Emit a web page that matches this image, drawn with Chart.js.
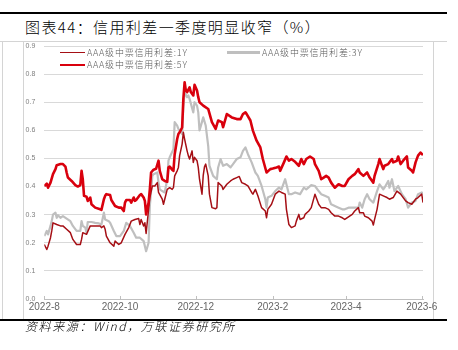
<!DOCTYPE html>
<html><head><meta charset="utf-8">
<script src="https://cdn.jsdelivr.net/npm/chart.js@4/dist/chart.umd.min.js"></script>
<style>
html,body{margin:0;padding:0;background:#fff;}
#wrap{position:relative;width:458px;height:350px;overflow:hidden;background:#fff;}
canvas{position:absolute;left:0;top:0;}
.abs{position:absolute;}
.lg{position:absolute;font:300 9px 'Noto Sans CJK SC';color:#595959;letter-spacing:0.8px;line-height:9px;white-space:nowrap;}
.lgl{position:absolute;}
</style></head><body>
<div id="wrap">
<div class="abs" style="left:0;top:12px;width:447px;height:2px;background:#000"></div>
<div class="abs" style="left:25px;top:19px;font:300 15px 'Noto Sans CJK SC';line-height:15px;letter-spacing:1.4px;color:#000;white-space:nowrap;">图表44：信用利差一季度明显收窄（%）</div>
<div class="abs" style="left:0;top:41px;width:447px;height:1px;background:#d4d4d4"></div>
<div class="abs" style="left:2px;top:42px;width:1px;height:277px;background:#d4d4d4"></div>
<div class="abs" style="left:23px;top:42px;width:1px;height:277px;background:#d4d4d4"></div>
<div class="abs" style="left:433px;top:42px;width:1px;height:277px;background:#d4d4d4"></div>
<canvas id="c" width="458" height="350"></canvas>
<div id="legend"></div>
<div class="abs" style="left:0;top:319px;width:447px;height:2px;background:#000"></div>
<div class="abs" style="left:25px;top:320px;font:italic 300 12px 'Noto Sans CJK SC';line-height:12px;letter-spacing:1.6px;color:#000;white-space:nowrap;">资料来源：Wind，万联证券研究所</div>
</div>
<script>
// x values are day offsets from this date
const startDate = '2022-08-01';
const tickDays   = [0, 61, 122, 184, 243, 304];
const tickLabels = ['2022-8','2022-10','2022-12','2023-2','2023-4','2023-6'];
const yTickValues = [0,0.1,0.2,0.3,0.4,0.5,0.6,0.7,0.8,0.9];
const seriesNames = ['AAA级中票信用利差:1Y','AAA级中票信用利差:3Y','AAA级中票信用利差:5Y'];

const days1Y = [
0,2,3,5,6,7,10,13,15,18,
21,23,26,29,30,31,34,37,41,45,
46,48,49,50,53,56,57,60,62,65,
68,70,73,76,77,78,80,81,82,85,
87,89,91,92,95,96,97,99,101,103,
104,105,107,108,109,111,112,113,115,116,
117,119,120,121,123,124,125,127,128,129,
130,132,133,135,138,139,140,143,144,147,
150,152,155,157,159,162,164,167,168,170,
172,175,178,179,180,183,186,189,191,194,
195,197,199,202,203,205,206,209,210,213,
215,218,221,223,226,229,231,234,237,240,
242,245,248,250,253,254,257,258,261,264,
265,266,268,270,273,276,278,281,284,287,
288,291,293,296,299,301,304,305];
const vals1Y = [
.194,.176,.188,.218,.242,.271,.265,.26,.26,.248,
.236,.212,.194,.194,.212,.236,.23,.26,.26,.26,
.254,.26,.248,.224,.2,.188,.206,.194,.2,.23,
.254,.277,.283,.286,.265,.283,.26,.271,.233,.361,
.402,.402,.414,.379,.355,.337,.355,.39,.396,.39,
.396,.438,.456,.468,.51,.551,.593,.569,.527,.51,
.498,.527,.486,.504,.492,.468,.426,.373,.44,.47,
.48,.438,.373,.325,.321,.325,.414,.402,.39,.408,
.42,.426,.432,.436,.414,.408,.402,.379,.373,.39,
.367,.325,.313,.289,.319,.337,.373,.384,.379,.373,
.319,.265,.254,.26,.277,.301,.283,.289,.301,.313,
.325,.373,.337,.325,.325,.319,.307,.295,.295,.289,
.283,.292,.301,.313,.325,.307,.307,.295,.289,.277,
.263,.283,.319,.373,.367,.361,.355,.361,.384,.373,
.367,.349,.343,.337,.355,.361,.373,.343];

const days3Y = [
0,2,3,5,6,7,9,10,11,13,
15,18,21,23,26,29,30,31,33,34,
35,38,41,44,46,48,49,52,53,56,
58,61,64,66,69,72,74,77,80,82,
84,85,87,88,91,92,93,95,97,99,
100,101,104,105,107,108,111,112,113,115,
116,117,120,121,123,124,125,127,128,130,
132,133,136,139,140,142,144,147,150,152,
155,158,160,162,164,167,170,172,175,178,
179,180,183,186,189,191,194,197,199,202,
206,209,211,215,218,221,223,226,229,231,
234,237,240,242,245,249,253,254,256,258,
260,262,265,268,270,273,274,277,278,280,
282,285,288,291,293,296,299,301,304,305];
const vals3Y = [
.224,.242,.23,.26,.277,.30,.307,.289,.298,.289,
.295,.286,.277,.26,.242,.242,.277,.26,.254,.236,
.274,.274,.271,.269,.265,.307,.283,.277,.271,.242,
.224,.224,.242,.271,.26,.236,.218,.218,.206,.17,
.2,.331,.438,.444,.45,.414,.39,.384,.379,.426,
.492,.504,.533,.629,.617,.605,.587,.688,.736,.718,
.724,.712,.664,.70,.688,.664,.60,.63,.646,.617,
.545,.474,.438,.426,.468,.498,.474,.48,.468,.48,
.498,.504,.527,.539,.515,.486,.45,.438,.402,.355,
.325,.361,.367,.384,.396,.39,.426,.373,.373,.379,
.373,.396,.39,.405,.402,.384,.373,.367,.361,.337,
.331,.325,.319,.319,.325,.325,.325,.343,.325,.355,
.373,.355,.343,.384,.408,.39,.396,.42,.396,.426,
.384,.402,.373,.355,.325,.343,.349,.373,.379,.373];

const days5Y = [
0,2,3,5,7,9,10,13,15,17,
18,19,22,25,27,29,30,31,32,34,
35,37,38,41,45,46,48,49,50,53,
54,57,60,62,64,65,66,69,70,72,
73,74,77,78,80,81,82,84,85,86,
88,90,92,93,95,97,99,100,101,103,
104,105,107,108,109,111,112,113,114,115,
117,118,120,121,123,124,125,128,132,135,
138,140,143,144,147,151,155,158,160,162,
163,166,168,171,174,176,179,182,184,187,
189,190,193,195,197,199,202,205,207,209,
211,214,217,218,221,223,225,227,229,231,
234,237,240,242,245,248,250,253,254,257,
260,262,265,266,269,270,273,274,277,280,
281,284,285,287,289,292,293,296,297,299,
301,303,305];
const vals5Y = [
.402,.41,.396,.414,.444,.462,.476,.48,.48,.471,
.45,.432,.42,.405,.40,.405,.456,.426,.367,.364,
.349,.361,.337,.325,.319,.317,.355,.367,.373,.37,
.352,.331,.325,.325,.313,.343,.352,.352,.343,.361,
.349,.352,.37,.373,.361,.349,.301,.343,.39,.45,
.46,.463,.492,.456,.426,.42,.417,.468,.471,.46,
.456,.515,.569,.587,.593,.61,.712,.771,.742,.736,
.753,.736,.724,.762,.742,.718,.70,.688,.676,.629,
.605,.635,.629,.611,.658,.646,.64,.64,.658,.664,
.658,.635,.599,.563,.539,.498,.45,.462,.464,.468,
.471,.456,.486,.507,.492,.498,.488,.474,.498,.48,
.498,.507,.498,.48,.456,.426,.432,.438,.432,.414,
.396,.408,.402,.402,.426,.438,.444,.462,.45,.438,
.45,.432,.414,.438,.48,.498,.462,.474,.48,.498,
.486,.492,.507,.48,.492,.507,.468,.456,.45,.486,
.51,.521,.512];

function pts(d, v) {
  if (d.length !== v.length) throw new Error('length mismatch ' + d.length + ' vs ' + v.length);
  return d.map((x, i) => ({x: x, y: v[i]}));
}

const styles = [
  {color:'#A50F15', width:1.5, order:1, lineLeft:60, lineW:25, top:52.5},
  {color:'#BFBFBF', width:2.2, order:2, lineLeft:227, lineW:33, top:52.5},
  {color:'#D9000D', width:2.6, order:0, lineLeft:60, lineW:25, top:65}
];
const allData = [pts(days1Y, vals1Y), pts(days3Y, vals3Y), pts(days5Y, vals5Y)];

const tickMarks = {
  id: 'tickMarks',
  afterDraw(chart) {
    const xs = chart.scales.x, ctx = chart.ctx, b = chart.chartArea.bottom;
    ctx.save(); ctx.strokeStyle = '#BFBFBF'; ctx.lineWidth = 1;
    tickDays.forEach(d => {
      const px = Math.round(xs.getPixelForValue(d)) + 0.5;
      ctx.beginPath(); ctx.moveTo(px, b); ctx.lineTo(px, b - 3); ctx.stroke();
    });
    ctx.restore();
  }
};

const chart = new Chart(document.getElementById('c'), {
  type: 'line',
  data: {
    datasets: seriesNames.map((n, i) => ({
      label: n, data: allData[i], borderColor: styles[i].color, backgroundColor: styles[i].color,
      borderWidth: styles[i].width, pointRadius: 0, tension: 0, order: styles[i].order,
      borderJoinStyle: 'round', fill: false
    }))
  },
  options: {
    responsive: false, animation: false, devicePixelRatio: 1,
    layout: {padding: {left: 20.3, right: 35, top: 46, bottom: 31}},
    plugins: {legend: {display: false}, tooltip: {enabled: false}},
    scales: {
      x: {
        type: 'linear', min: 0, max: 305,
        afterBuildTicks: s => { s.ticks = tickDays.map(v => ({value: v})); },
        afterFit: s => { s.height = 20; },
        grid: {display: false, drawTicks: false},
        border: {display: true, color: '#BFBFBF', width: 1},
        ticks: {
          autoSkip: false, maxRotation: 0, padding: 2, color: '#666666',
          font: {size: 10, family: 'Liberation Sans'},
          callback: v => tickLabels[tickDays.indexOf(v)]
        }
      },
      y: {
        min: 0, max: 0.9,
        afterBuildTicks: s => { s.ticks = yTickValues.map(v => ({value: v})); },
        afterFit: s => { s.width = 24; },
        grid: {color: '#D9D9D9', lineWidth: 1, drawTicks: false},
        border: {display: false},
        ticks: {
          padding: 9, color: '#808080', font: {size: 7, family: 'Liberation Sans'},
          callback: v => Number(v).toFixed(1)
        }
      }
    }
  },
  plugins: [tickMarks]
});

// legend in the page, built from the datasets
const lg = document.getElementById('legend');
chart.data.datasets.forEach((ds, i) => {
  const st = styles[i];
  const line = document.createElement('div');
  line.className = 'lgl';
  line.style.left = st.lineLeft + 'px';
  line.style.width = st.lineW + 'px';
  line.style.height = st.width + 'px';
  line.style.top = (st.top - st.width / 2) + 'px';
  line.style.background = ds.borderColor;
  lg.appendChild(line);
  const t = document.createElement('div');
  t.className = 'lg';
  t.textContent = ds.label;
  t.style.left = (st.lineLeft + st.lineW + 2) + 'px';
  t.style.top = (st.top - 5) + 'px';
  lg.appendChild(t);
});
</script>
</body></html>
